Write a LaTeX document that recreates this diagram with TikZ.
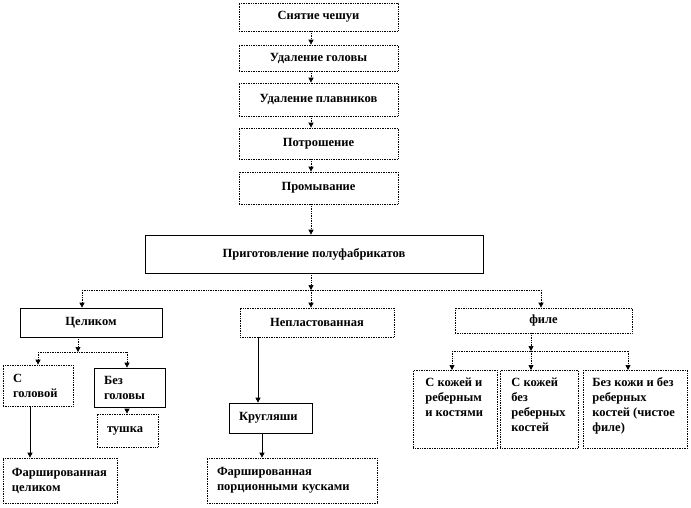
\documentclass[tikz,border=0pt]{standalone}
\usepackage{fontspec}
\setmainfont{Liberation Serif}
\usetikzlibrary{arrows.meta}

\begin{document}
\begin{tikzpicture}[x=1pt,y=-1pt,
    box/.style={draw,densely dotted,line width=0.7pt,inner sep=0pt,
        font=\fontsize{12.5}{15}\selectfont\bfseries},
    solbox/.style={box,solid},
    lbox/.style={box,align=left,inner xsep=10pt},
    line/.style={densely dotted,line width=0.7pt},
    arr/.style={line,-{Triangle[length=5pt,width=5pt]}},
    sarr/.style={arr,solid}]
    \useasboundingbox (0,0) rectangle (691,507);

    % Draw the processing steps
    \node[box,minimum width=159,minimum height=28] (s1) at (318.5,17) {Снятие чешуи};
    \node[box,minimum width=159,minimum height=26] (s2) at (318.5,58) {Удаление головы};
    \node[box,minimum width=159,minimum height=33] (s3) at (318.5,99.5) {Удаление плавников};
    \node[box,minimum width=159,minimum height=31] (s4) at (318.5,143.5) {Потрошение};
    \node[box,minimum width=159,minimum height=32] (s5) at (318.5,188) {Промывание};
    \node[solbox,minimum width=338,minimum height=38] (p) at (314,254) {Приготовление полуфабрикатов};

    % Draw the three ways of cutting
    \node[solbox,minimum width=142,minimum height=29] (c1) at (91,322.5) {Целиком};
    \node[box,minimum width=154,minimum height=29] (n2) at (317,322.5) {Непластованная};
    \node[box,minimum width=177,minimum height=25] (f) at (543.5,320.5) {филе};

    % Whole fish
    \node[lbox,text width=50,minimum height=41] (g1) at (38,385.5) {С\\головой};
    \node[lbox,solid,text width=51,minimum height=39] (g2) at (129.5,387.5) {Без\\головы};
    \node[lbox,text width=41,minimum height=33] (t) at (127.5,430.5) {тушка};
    \node[lbox,text width=96,inner xsep=9pt,minimum height=45] (ff1) at (60,480.5) {Фаршированная\\целиком};

    % Round pieces
    \node[lbox,solid,text width=63,minimum height=30] (k) at (270.5,418) {Кругляши};
    \node[lbox,text width=150,minimum height=45] (ff2) at (292,480.5) {Фаршированная\\порционными кусками};

    % Fillet
    \node[box,anchor=north west,inner xsep=12pt] (fa) at (413,370)
        {\parbox[c][78pt][t]{60pt}{\raggedright\rule{0pt}{16pt}С кожей и\\реберным\\и костями}};
    \node[box,anchor=north west,inner xsep=11pt] (fb) at (500,370)
        {\parbox[c][78pt][t]{56pt}{\raggedright\rule{0pt}{16pt}С кожей\\без\\реберных\\костей}};
    \node[box,anchor=north west,inner xsep=9pt] (fc) at (583,370)
        {\parbox[c][78pt][t]{86pt}{\raggedright\rule{0pt}{16pt}Без кожи и без\\реберных\\костей (чистое\\филе)}};

    % Main column arrows
    \coordinate (ax) at (311,0);
    \draw[arr] (s1.south -| ax) -- (s2.north -| ax);
    \draw[arr] (s2.south -| ax) -- (s3.north -| ax);
    \draw[arr] (s3.south -| ax) -- (s4.north -| ax);
    \draw[arr] (s4.south -| ax) -- (s5.north -| ax);
    \draw[arr] (s5.south -| ax) -- (p.north -| ax);

    % Branching below the semi-finished products
    \coordinate (br) at (311,290);
    \coordinate (bl) at (82,290);
    \coordinate (brr) at (541,290);
    \draw[arr] (p.south -| ax) -- (br);
    \draw[line] (bl) -- (brr);
    \draw[arr] (bl) -- (c1.north -| bl);
    \draw[arr] (br) -- (n2.north -| br);
    \draw[arr] (brr) -- (f.north -| brr);

    % Whole fish branch
    \coordinate (cs) at (78,352);
    \coordinate (csl) at (38,352);
    \coordinate (csr) at (127,352);
    \draw[arr] (c1.south -| cs) -- (cs);
    \draw[line] (csl) -- (csr);
    \draw[arr] (csl) -- (g1.north -| csl);
    \draw[arr] (csr) -- (g2.north -| csr);
    \draw[arr] (g2.south -| csr) -- (t.north -| csr);
    \coordinate (gx) at (30,0);
    \draw[sarr] (g1.south -| gx) -- (ff1.north -| gx);

    % Round pieces branch
    \coordinate (nx) at (258,0);
    \coordinate (kx) at (262,0);
    \draw[sarr] (n2.south -| nx) -- (k.north -| nx);
    \draw[sarr] (k.south -| kx) -- (ff2.north -| kx);

    % Fillet branch
    \coordinate (fs) at (531,351);
    \coordinate (fsl) at (452,351);
    \coordinate (fsr) at (628,351);
    \draw[arr] (f.south -| fs) -- (fs);
    \draw[line] (fsl) -- (fsr);
    \draw[arr] (fsl) -- (fa.north -| fsl);
    \draw[arr] (fs) -- (fb.north -| fs);
    \draw[arr] (fsr) -- (fc.north -| fsr);
\end{tikzpicture}
\end{document}
